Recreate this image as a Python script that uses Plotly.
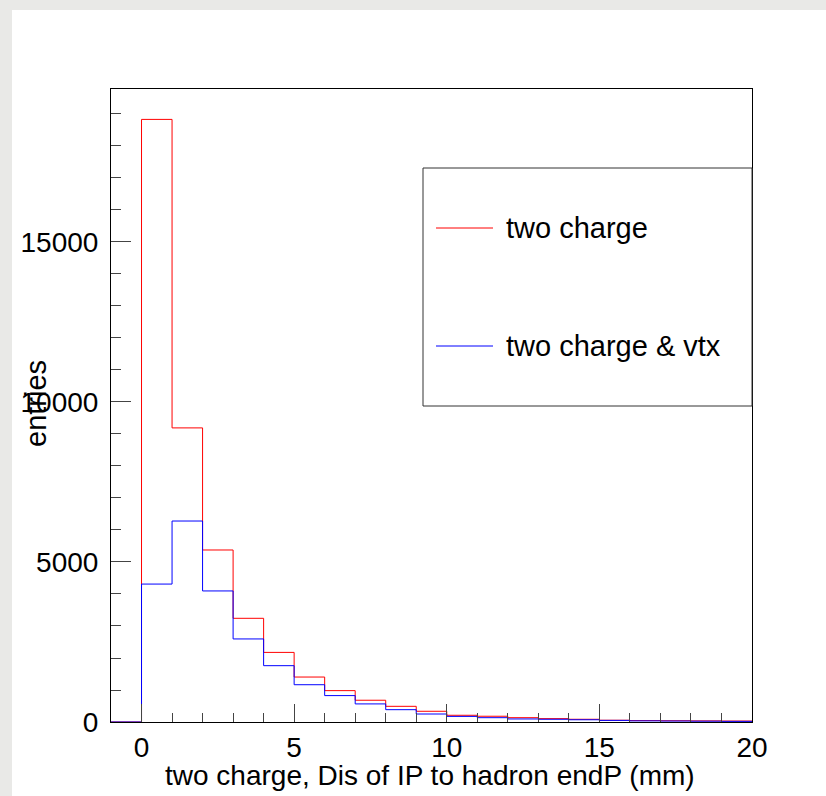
import plotly.graph_objects as go

# ---- data ----
bin_edges = [-1, 0, 1, 2, 3, 4, 5, 6, 7, 8, 9, 10, 11, 12, 13, 14, 15, 16, 17, 18, 19, 20]
two_charge = [0, 18830, 9190, 5375, 3240, 2175, 1405, 980, 680, 490, 335, 210, 180, 135, 105, 85, 55, 45, 40, 35, 30]
two_charge_vtx = [0, 4310, 6280, 4095, 2595, 1760, 1165, 825, 565, 385, 250, 175, 135, 95, 85, 70, 50, 35, 30, 25, 20]
series_names = ["two charge", "two charge & vtx"]
x_title = "two charge, Dis of IP to hadron endP (mm)"
y_title = "entries"
x_ticks = [0, 5, 10, 15, 20]
x_tick_labels = ["0", "5", "10", "15", "20"]
y_ticks = [0, 5000, 10000, 15000]
y_tick_labels = ["0", "5000", "10000", "15000"]

W, H = 826, 796
L, R, T, B = 111, 752, 89, 722  # plot frame in pixels
FONT = "Liberation Sans, Arial, Helvetica, sans-serif"


def px(x):
    return (x - L) / (R - L)


def py(y):
    return (B - y) / (B - T)


fig = go.Figure()
for vals, col, name in [(two_charge, "#ff0000", series_names[0]), (two_charge_vtx, "#0000ff", series_names[1])]:
    fig.add_trace(go.Scatter(
        x=bin_edges, y=vals + [0], mode="lines", line=dict(color=col, width=1, shape="hv"),
        name=name, showlegend=False, cliponaxis=True,
    ))

axis_common = dict(showline=True, linecolor="black", linewidth=1, mirror=True,
                   showgrid=False, zeroline=False, ticks="inside", tickcolor="#444",
                   tickwidth=1, tickfont=dict(family=FONT, size=28, color="black"))

fig.update_xaxes(range=[-1, 20], tickvals=x_ticks, ticktext=x_tick_labels, ticklen=18,
                 minor=dict(ticks="inside", dtick=1, tick0=0, ticklen=9, tickcolor="#444"),
                 ticklabelstandoff=0, **axis_common)
fig.update_yaxes(range=[0, 19780], tickvals=y_ticks, ticktext=y_tick_labels, ticklen=20,
                 minor=dict(ticks="inside", dtick=1000, tick0=0, ticklen=10, tickcolor="#444"),
                 ticklabelstandoff=6, **axis_common)

shapes = []
# grey textured page border (left and top strips)
grey = "#e9e9e7"
shapes.append(dict(type="rect", xref="paper", yref="paper", x0=px(0), x1=px(12), y0=py(W + 100), y1=py(0),
                   fillcolor=grey, line=dict(width=0), layer="below"))
shapes.append(dict(type="rect", xref="paper", yref="paper", x0=px(0), x1=px(W + 10), y0=py(10), y1=py(0),
                   fillcolor=grey, line=dict(width=0), layer="below"))
# legend box
shapes.append(dict(type="rect", xref="paper", yref="paper", x0=px(423), x1=px(752), y0=py(406), y1=py(168),
                   fillcolor="white", line=dict(color="#333", width=1)))
annotations = []
for yy, col, name in [(228, "#ff0000", series_names[0]), (346, "#0000ff", series_names[1])]:
    shapes.append(dict(type="line", xref="paper", yref="paper", x0=px(436), x1=px(493), y0=py(yy), y1=py(yy),
                       line=dict(color=col, width=1)))
    annotations.append(dict(xref="paper", yref="paper", x=px(504), y=py(yy), text=name, showarrow=False,
                            xanchor="left", yanchor="middle", font=dict(family=FONT, size=29, color="black")))

annotations.append(dict(xref="paper", yref="paper", x=px(430), y=py(775), text=x_title, showarrow=False,
                        xanchor="center", yanchor="middle", font=dict(family=FONT, size=28, color="black")))
annotations.append(dict(xref="paper", yref="paper", x=px(36), y=py(404), text=y_title, showarrow=False,
                        textangle=-90, xanchor="center", yanchor="middle",
                        font=dict(family=FONT, size=29, color="black")))

fig.update_layout(
    width=W, height=H, margin=dict(l=L, r=W - R, t=T, b=H - B),
    paper_bgcolor="white", plot_bgcolor="white",
    shapes=shapes, annotations=annotations, showlegend=False,
    font=dict(family=FONT),
)

fig.write_html("out.html")
